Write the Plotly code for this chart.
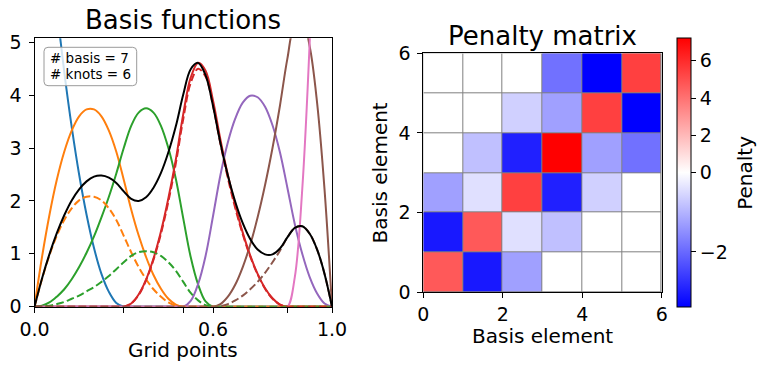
import plotly.graph_objects as go

# ---------------- data ----------------
grid_x = [0.0, 0.025, 0.05, 0.075, 0.1, 0.125, 0.15, 0.175, 0.2, 0.225, 0.25, 0.275, 0.3,
          0.325, 0.35, 0.375, 0.4, 0.425, 0.45, 0.475, 0.5, 0.525, 0.55, 0.575, 0.6, 0.625,
          0.65, 0.675, 0.7, 0.725, 0.75, 0.775, 0.8, 0.825, 0.85, 0.875, 0.9, 0.925, 0.95,
          0.975, 1.0]

basis_0 = [10.00, 8.40, 6.94, 5.62, 4.44, 3.40, 2.50, 1.74, 1.11, 0.62, 0.28, 0.07, 0.00] + [0.0] * 28
basis_1 = [0.00, 0.93, 1.73, 2.40, 2.93, 3.33, 3.60, 3.73, 3.73, 3.60, 3.33, 2.93, 2.40, 1.84, 1.35,
           0.94, 0.60, 0.34, 0.15, 0.04, 0.00] + [0.0] * 20
basis_2 = [0.00, 0.02, 0.08, 0.19, 0.33, 0.52, 0.75, 1.02, 1.33, 1.69, 2.08, 2.52, 3.00, 3.42, 3.67,
           3.75, 3.67, 3.42, 3.00, 2.42, 1.67, 0.94, 0.42, 0.10, 0.00] + [0.0] * 16
basis_3 = [0.0] * 12 + [0.00, 0.06, 0.23, 0.51, 0.91, 1.42, 2.05, 2.78, 3.64, 4.33, 4.61, 4.46, 3.90,
                        3.16, 2.49, 1.91, 1.40, 0.97, 0.62, 0.35, 0.16, 0.04, 0.00] + [0.0] * 6
basis_4 = [0.0] * 20 + [0.00, 0.11, 0.43, 0.96, 1.71, 2.49, 3.11, 3.56, 3.86, 3.99, 3.96, 3.78, 3.43,
                        2.92, 2.25, 1.56, 1.00, 0.56, 0.25, 0.06, 0.00]
basis_5 = [0.0] * 24 + [0.00, 0.05, 0.19, 0.42, 0.75, 1.17, 1.69, 2.30, 3.00, 3.80, 4.69, 5.34, 5.42,
                        4.92, 3.85, 2.21, 0.00]
basis_6 = [0.0] * 34 + [0.00, 0.56, 2.22, 5.00, 8.89, 13.89, 20.00]

weighted_1 = [0.00, 0.52, 0.97, 1.34, 1.64, 1.86, 2.01, 2.08, 2.08, 2.01, 1.86, 1.64, 1.34, 1.03, 0.75,
              0.52, 0.33, 0.19, 0.08, 0.02, 0.00] + [0.0] * 20
weighted_2 = [0.00, 0.01, 0.02, 0.05, 0.09, 0.15, 0.21, 0.29, 0.37, 0.47, 0.58, 0.71, 0.84, 0.96, 1.03,
              1.05, 1.03, 0.96, 0.84, 0.68, 0.47, 0.26, 0.12, 0.03, 0.00] + [0.0] * 16
weighted_3 = [0.0] * 12 + [0.00, 0.06, 0.22, 0.50, 0.89, 1.38, 1.99, 2.71, 3.55, 4.23, 4.50, 4.35, 3.80,
                           3.08, 2.43, 1.86, 1.37, 0.95, 0.61, 0.34, 0.15, 0.04, 0.00] + [0.0] * 6
weighted_5 = [0.0] * 24 + [0.00, 0.01, 0.05, 0.12, 0.21, 0.33, 0.47, 0.64, 0.84, 1.06, 1.31, 1.49, 1.52,
                           1.38, 1.08, 0.62, 0.00]
fitted = [0.00, 0.53, 0.99, 1.39, 1.73, 2.01, 2.22, 2.37, 2.46, 2.48, 2.44, 2.34, 2.18, 2.04, 2.00, 2.07,
          2.25, 2.53, 2.92, 3.41, 4.01, 4.49, 4.61, 4.38, 3.80, 3.09, 2.48, 1.98, 1.58, 1.28, 1.08, 0.99,
          0.99, 1.10, 1.31, 1.49, 1.52, 1.38, 1.08, 0.62, 0.00]

knot_ticks = [0.0, 0.3, 0.5, 0.6, 0.85, 1.0]
knot_labels = ["0.0", "", "", "0.6", "", "1.0"]
info_text = ["# basis = 7", "# knots = 6"]

# penalty matrix, row index = y (bottom to top)
penalty = [
    [4.7, -3.08, -1.27, 0.0, 0.0, 0.0],
    [-3.08, 4.7, -0.41, -0.84, 0.0, 0.0],
    [-1.27, -0.41, 5.4, -2.97, -0.63, 0.0],
    [0.0, -0.84, -2.97, 7.2, -1.27, -1.9],
    [0.0, 0.0, -0.63, -1.27, 5.4, -3.4],
    [0.0, 0.0, 0.0, -1.9, -3.4, 5.4],
]
cell_edges = [0, 1, 2, 3, 4, 5, 6]
cbar_ticks = [6, 4, 2, 0, -2]
cbar_labels = ["6", "4", "2", "0", "\u22122"]

# ---------------- styling ----------------
FONT = "DejaVu Sans"
W, H = 767, 372
colors = ["#1f77b4", "#ff7f0e", "#2ca02c", "#d62728", "#9467bd", "#8c564b", "#e377c2"]
DASH = "7.7px,3.3px"

vmin = min(min(r) for r in penalty)
vmax = max(max(r) for r in penalty)


def two_slope(v):
    if v >= 0:
        return 0.5 + 0.5 * v / vmax
    return 0.5 * (v - vmin) / (0 - vmin)


z_norm = [[two_slope(v) for v in row] for row in penalty]

fig = go.Figure()

basis_list = [basis_0, basis_1, basis_2, basis_3, basis_4, basis_5, basis_6]
for i, b in enumerate(basis_list):
    fig.add_trace(go.Scatter(x=grid_x, y=b, mode="lines",
                             line=dict(color=colors[i], width=2, shape="spline"),
                             xaxis="x", yaxis="y", showlegend=False, hoverinfo="skip"))
for i, w in [(1, weighted_1), (2, weighted_2), (3, weighted_3), (5, weighted_5)]:
    fig.add_trace(go.Scatter(x=grid_x, y=w, mode="lines",
                             line=dict(color=colors[i], width=2, dash=DASH, shape="spline"),
                             xaxis="x", yaxis="y", showlegend=False, hoverinfo="skip"))
fig.add_trace(go.Scatter(x=grid_x, y=fitted, mode="lines",
                         line=dict(color="black", width=2, shape="spline"),
                         xaxis="x", yaxis="y", showlegend=False, hoverinfo="skip"))

fig.add_trace(go.Heatmap(
    z=z_norm, x=cell_edges, y=cell_edges, customdata=penalty,
    zmin=0, zmax=1,
    colorscale=[[0, "rgb(0,0,255)"], [0.5, "rgb(255,255,255)"], [1, "rgb(255,0,0)"]],
    xgap=1, ygap=1, xaxis="x2", yaxis="y2",
    hovertemplate="%{customdata}<extra></extra>",
    colorbar=dict(
        x=676.7 / W, xanchor="left", xpad=0, ypad=0,
        y=1 - 172.8 / H, yanchor="middle",
        len=269, lenmode="pixels", thickness=14, thicknessmode="pixels",
        outlinewidth=1, outlinecolor="black",
        tickmode="array", tickvals=[two_slope(v) for v in cbar_ticks], ticktext=cbar_labels,
        ticks="outside", ticklen=5, tickwidth=1, tickcolor="black",
        tickfont=dict(family=FONT, size=19, color="black"),
    ),
))

axis_common = dict(showline=True, linecolor="black", linewidth=1, mirror=True,
                   ticks="outside", ticklen=5, tickwidth=1, tickcolor="black",
                   showgrid=False, zeroline=False, automargin=False,
                   tickfont=dict(family=FONT, size=19, color="black"))

fig.update_layout(
    width=W, height=H, margin=dict(l=0, r=0, t=0, b=0, autoexpand=False),
    paper_bgcolor="white", plot_bgcolor="white",
    xaxis=dict(domain=[34.5 / W, 332 / W], range=[0, 1], tickmode="array",
               tickvals=knot_ticks, ticktext=knot_labels, anchor="y", **axis_common),
    yaxis=dict(domain=[1 - 306.7 / H, 1 - 38.3 / H], range=[0, 5.075], tickmode="array",
               tickvals=[0, 1, 2, 3, 4, 5], anchor="x", ticklabelstandoff=3, **axis_common),
    xaxis2=dict(domain=[423.3 / W, 661.7 / W], range=[0, 6], tickmode="array",
                tickvals=[0, 2, 4, 6], anchor="y2", **axis_common),
    yaxis2=dict(domain=[1 - 292.3 / H, 1 - 53.3 / H], range=[0, 6], tickmode="array",
                tickvals=[0, 2, 4, 6], anchor="x2", ticklabelstandoff=3, **axis_common),
    showlegend=False,
)

fig.add_shape(type="rect", xref="x2", yref="y2", x0=0, x1=6, y0=0, y1=6,
              fillcolor="#808080", line=dict(width=0), layer="below")


def px(xp):
    return xp / W


def py(yp):
    return 1 - yp / H


# rounded info box (pixel geometry converted to paper fractions)
bx0, bx1, by0, by1, r = 44.0, 136.7, 47.3, 85.7, 4.0
path = (f"M {px(bx0 + r)},{py(by0)} L {px(bx1 - r)},{py(by0)} "
        f"Q {px(bx1)},{py(by0)} {px(bx1)},{py(by0 + r)} L {px(bx1)},{py(by1 - r)} "
        f"Q {px(bx1)},{py(by1)} {px(bx1 - r)},{py(by1)} L {px(bx0 + r)},{py(by1)} "
        f"Q {px(bx0)},{py(by1)} {px(bx0)},{py(by1 - r)} L {px(bx0)},{py(by0 + r)} "
        f"Q {px(bx0)},{py(by0)} {px(bx0 + r)},{py(by0)} Z")
fig.add_shape(type="path", path=path, xref="paper", yref="paper",
              fillcolor="rgba(255,255,255,0.8)", line=dict(color="#9a9a9a", width=1),
              layer="above")


def ann(text, xp, yp, size, angle=0, **kw):
    fig.add_annotation(text=text, x=px(xp), y=py(yp), xref="paper", yref="paper",
                       showarrow=False, textangle=angle,
                       font=dict(family=FONT, size=size, color="black"), **kw)


ann("Basis functions", 183.25, 20.5, 26, xanchor="center", yanchor="middle")
ann("Penalty matrix", 542.5, 35.5, 26, xanchor="center", yanchor="middle")
ann("Grid points", 183.25, 350, 20, xanchor="center", yanchor="middle")
ann("Basis element", 542.5, 336, 20, xanchor="center", yanchor="middle")
ann("Basis element", 379.7, 172.8, 20, angle=-90, xanchor="center", yanchor="middle")
ann("Penalty", 745, 172.8, 20, angle=-90, xanchor="center", yanchor="middle")
ann(info_text[0], 47.5, 57.8, 13.5, xanchor="left", yanchor="middle")
ann(info_text[1], 47.5, 73.8, 13.5, xanchor="left", yanchor="middle")

fig.write_html("out.html", config={"displayModeBar": False},
               post_script="document.body.style.margin='0';document.body.style.overflow='hidden';")
